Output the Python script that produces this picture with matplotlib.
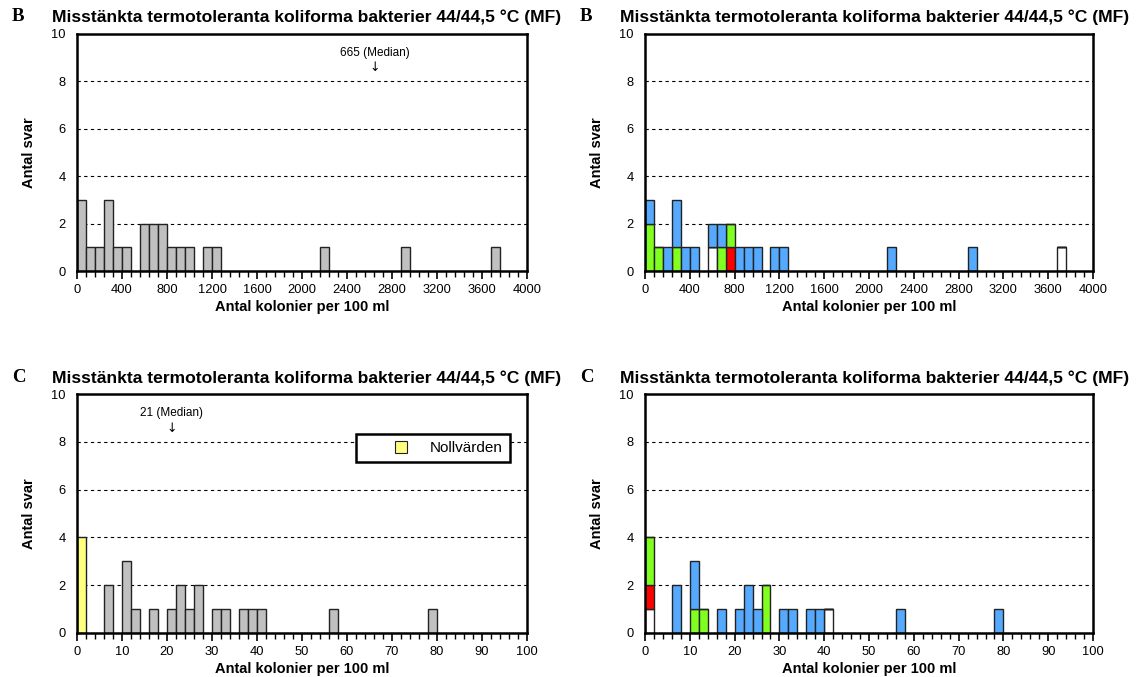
import matplotlib
matplotlib.use("Agg")
import matplotlib.pyplot as plt
from matplotlib.patches import Patch, Rectangle
from matplotlib.legend_handler import HandlerPatch
from matplotlib.ticker import MultipleLocator

plt.rcParams["font.family"] = ["Liberation Sans", "DejaVu Sans"]

# B: counts per bin (bin width 80)
b_left = [0, 80, 160, 240, 320, 400, 560, 640, 720, 800, 880, 960, 1120, 1200, 2160, 2880, 3680]
b_count = [3, 1, 1, 3, 1, 1, 2, 2, 2, 1, 1, 1, 1, 1, 1, 1, 1]
b_white = [0, 0, 0, 0, 0, 0, 1, 0, 0, 0, 0, 0, 0, 0, 0, 0, 1]
b_red = [0, 0, 0, 0, 0, 0, 0, 0, 1, 0, 0, 0, 0, 0, 0, 0, 0]
b_green = [2, 1, 0, 1, 0, 0, 0, 1, 1, 0, 0, 0, 0, 0, 0, 0, 0]
b_blue = [1, 0, 1, 2, 1, 1, 1, 1, 0, 1, 1, 1, 1, 1, 1, 1, 0]

# C: counts per bin (bin width 2), first bin = zero values
c_left = [0, 6, 10, 12, 16, 20, 22, 24, 26, 30, 32, 36, 38, 40, 56, 78]
c_count = [4, 2, 3, 1, 1, 1, 2, 1, 2, 1, 1, 1, 1, 1, 1, 1]
c_white = [1, 0, 0, 0, 0, 0, 0, 0, 0, 0, 0, 0, 0, 1, 0, 0]
c_red = [1, 0, 0, 0, 0, 0, 0, 0, 0, 0, 0, 0, 0, 0, 0, 0]
c_green = [2, 0, 1, 1, 0, 0, 0, 0, 2, 0, 0, 0, 0, 0, 0, 0]
c_blue = [0, 2, 2, 0, 1, 1, 2, 1, 0, 1, 1, 1, 1, 0, 1, 1]

title = "Misstänkta termotoleranta koliforma bakterier 44/44,5 °C (MF)"
GRAY = "#c0c0c0"
BLUE = "#55aaff"
GREEN = "#80ff20"
RED = "#ff0000"
YELLOW = "#ffff80"
EDGE = "#222222"


def setup(ax, xmax, major, minor, letter):
    ax.set_xlim(0, xmax)
    ax.set_ylim(0, 10)
    ax.set_yticks([0, 2, 4, 6, 8, 10])
    ax.xaxis.set_major_locator(MultipleLocator(major))
    ax.xaxis.set_minor_locator(MultipleLocator(minor))
    ax.tick_params(axis="x", which="major", direction="out", length=6, width=1.2, labelsize=9.3)
    ax.tick_params(axis="x", which="minor", direction="out", length=4, width=1)
    ax.tick_params(axis="y", length=0, labelsize=9.3, pad=8)
    for s in ax.spines.values():
        s.set_linewidth(1.8)
    ax.set_axisbelow(True)
    ax.grid(axis="y", color="black", linestyle=(0, (3, 3)), linewidth=0.8)
    ax.set_xlabel("Antal kolonier per 100 ml", fontweight="bold", fontsize=10.5, labelpad=3)
    ax.set_ylabel("Antal svar", fontweight="bold", fontsize=10.5, labelpad=11)
    ax.text(-0.145, 1.035, letter, transform=ax.transAxes, fontsize=13.5, fontweight="bold",
            family="Liberation Serif", va="bottom", ha="left")
    ax.text(-0.055, 1.035, title, transform=ax.transAxes, fontsize=12.6, fontweight="bold",
            va="bottom", ha="left")


def stacked(ax, left, width, layers):
    bottom = [0] * len(left)
    for vals, color in layers:
        ax.bar(left, vals, width=width, bottom=bottom, align="edge", color=color,
               edgecolor=EDGE, linewidth=1.0)
        bottom = [b + v for b, v in zip(bottom, vals)]


def right_patch(legend, orig_handle, xdescent, ydescent, width, height, fontsize):
    # legend square sits at the right end of a wide handle box
    return Rectangle((width - height - xdescent, -ydescent), height, height)


fig = plt.figure(figsize=(11.38, 6.77), dpi=100)
ax_tl = fig.add_axes([0.0677, 0.5997, 0.3954, 0.3507])
ax_tr = fig.add_axes([0.5668, 0.5997, 0.3937, 0.3507])
ax_bl = fig.add_axes([0.0677, 0.065, 0.3954, 0.353])
ax_br = fig.add_axes([0.5668, 0.065, 0.3937, 0.353])

# top left
ax_tl.bar(b_left, b_count, width=80, align="edge", color=GRAY, edgecolor=EDGE, linewidth=1.0)
setup(ax_tl, 4000, 400, 80, "B")
ax_tl.text(2650, 8.95, "665 (Median)", ha="center", va="bottom", fontsize=8.5)
ax_tl.text(2650, 8.3, "↓", ha="center", va="bottom", fontsize=9, family="DejaVu Sans")

# top right
stacked(ax_tr, b_left, 80, [(b_white, "white"), (b_red, RED), (b_green, GREEN), (b_blue, BLUE)])
setup(ax_tr, 4000, 400, 80, "B")

# bottom left
c_colors = [YELLOW] + [GRAY] * (len(c_left) - 1)
ax_bl.bar(c_left, c_count, width=2, align="edge", color=c_colors, edgecolor=EDGE, linewidth=1.0)
setup(ax_bl, 100, 10, 2, "C")
ax_bl.text(21, 8.95, "21 (Median)", ha="center", va="bottom", fontsize=8.5)
ax_bl.text(21, 8.3, "↓", ha="center", va="bottom", fontsize=9, family="DejaVu Sans")
zero_handle = Patch(facecolor=YELLOW, edgecolor=EDGE, linewidth=0.8)
leg = ax_bl.legend(handles=[zero_handle], labels=["Nollvärden"], loc="upper right",
                   bbox_to_anchor=(0.962, 0.833), fancybox=False, framealpha=1,
                   edgecolor="black", fontsize=11, borderpad=0.45, handlelength=2.9,
                   handleheight=0.9, handletextpad=1.5, borderaxespad=0,
                   handler_map={zero_handle: HandlerPatch(patch_func=right_patch)})
leg.get_frame().set_linewidth(1.8)

# bottom right
stacked(ax_br, c_left, 2, [(c_white, "white"), (c_red, RED), (c_green, GREEN), (c_blue, BLUE)])
setup(ax_br, 100, 10, 2, "C")

fig.savefig("out.png", dpi=100)
